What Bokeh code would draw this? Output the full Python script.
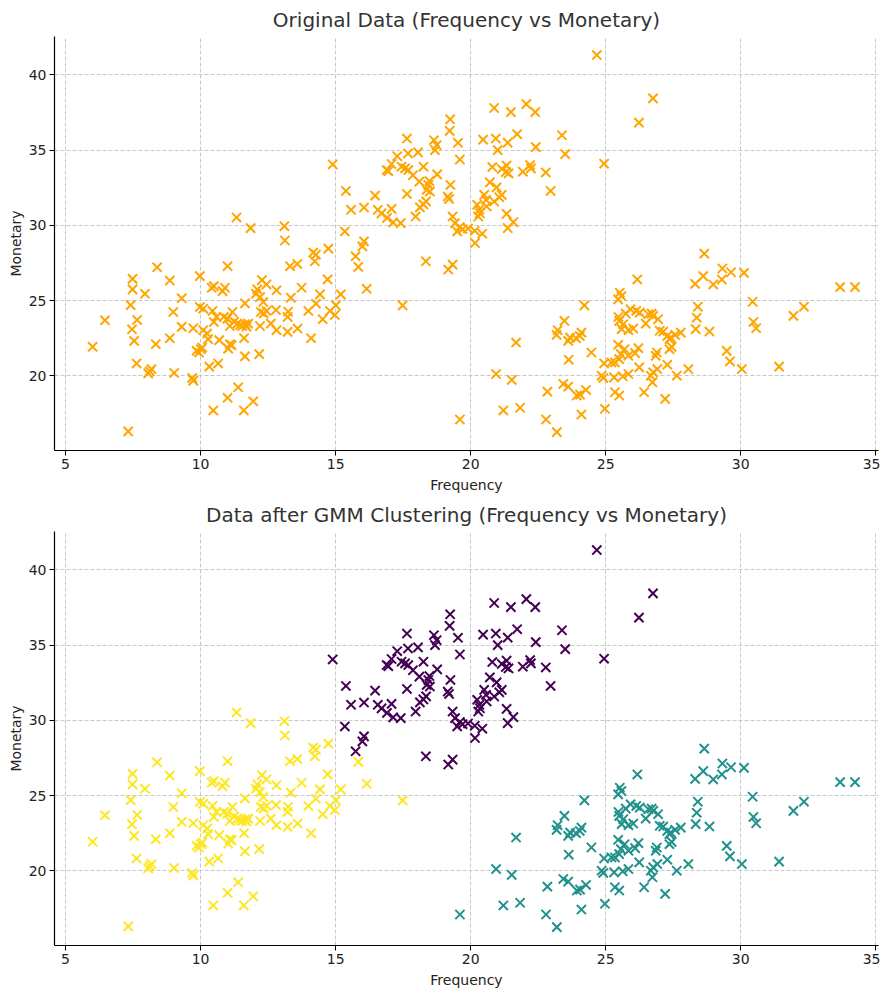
from bokeh.plotting import figure
from bokeh.layouts import column
from bokeh.models import Range1d, FixedTicker
from bokeh.embed import file_html
from bokeh.resources import INLINE

# ---------------- data (Frequency, Monetary) grouped by GMM cluster ----------------
# cluster 0 (purple, middle / high monetary)
c0_freq = [19.24, 19.22, 17.64, 18.64, 18.74, 18.68, 19.53, 19.60, 17.68, 18.05, 17.28, 14.89,
           17.07, 16.89, 16.95, 17.44, 17.57, 17.69, 18.25, 17.86, 18.76, 18.47, 18.10, 19.25,
           18.43, 18.37, 18.49, 15.38, 17.64, 16.46, 19.15, 19.20, 18.12, 18.25, 18.35, 15.57,
           16.05, 16.56, 17.07, 16.70, 16.90, 17.96, 19.33, 17.13, 17.41, 19.42, 19.50, 19.60,
           19.70, 19.90, 20.15, 15.34, 16.05, 15.99, 20.16, 20.43, 15.74, 18.34, 19.17, 19.33,
           24.67, 26.75, 26.23, 20.87, 21.49, 22.06, 22.39, 23.38, 20.46, 20.93, 21.72, 21.37,
           21.00, 22.41, 23.50, 24.94, 20.80, 21.15, 21.30, 21.40, 21.33, 21.93, 22.20, 22.23,
           22.78, 22.96, 20.71, 20.96, 20.50, 21.06, 20.87, 20.59, 20.24, 20.34, 20.28, 21.33,
           21.58, 21.37, 20.32, 20.57, 21.15]
c0_mon = [37.05, 36.28, 35.77, 35.66, 35.33, 35.00, 35.49, 34.38, 34.78, 34.85, 34.60, 34.05,
          34.08, 33.68, 33.61, 33.90, 33.79, 33.68, 33.90, 33.33, 33.39, 32.95, 32.91, 32.69,
          32.69, 32.36, 32.25, 32.29, 32.09, 31.98, 31.92, 31.76, 31.20, 31.40, 31.60, 31.04,
          31.19, 31.04, 31.10, 30.80, 30.50, 30.59, 30.59, 30.20, 30.15, 30.15, 29.60, 29.90,
          29.75, 29.80, 29.65, 29.60, 28.94, 28.61, 28.83, 29.45, 27.95, 27.62, 27.07, 27.40,
          41.32, 38.44, 36.83, 37.80, 37.53, 38.06, 37.53, 35.99, 35.70, 35.77, 36.06, 35.50,
          35.00, 35.20, 34.74, 34.10, 33.88, 33.75, 33.55, 33.46, 33.97, 33.57, 34.01, 33.79,
          33.52, 32.29, 32.86, 32.53, 32.03, 31.87, 31.59, 31.26, 31.37, 30.81, 30.59, 30.77,
          30.22, 29.82, 31.04, 31.70, 32.03]

# cluster 1 (teal, right / lower monetary)
c1_freq = [19.60, 26.17, 25.52, 25.58, 25.46, 24.21, 23.47, 23.22, 23.18, 23.61, 23.68, 23.90,
           24.04, 24.10, 21.68, 23.63, 24.47, 24.94, 25.21, 20.94, 21.52, 22.84, 23.43, 23.61,
           23.93, 24.05, 24.27, 24.85, 24.91, 21.21, 21.83, 22.79, 23.19, 24.10, 24.97, 25.47,
           25.50, 25.65, 25.59, 25.74, 25.92, 26.02, 25.84, 26.13, 26.26, 26.48, 26.58, 26.70,
           26.76, 26.94, 27.00, 27.13, 27.28, 27.41, 27.57, 25.46, 25.70, 25.56, 25.84, 25.50,
           25.34, 26.09, 26.21, 26.24, 26.89, 26.85, 27.36, 27.44, 27.28, 26.91, 26.76, 26.67,
           26.73, 26.42, 27.20, 27.63, 25.84, 25.63, 25.31, 25.34, 25.50, 28.65, 29.32, 29.64,
           30.12, 28.61, 28.31, 28.98, 29.30, 33.68, 34.23, 30.44, 32.34, 31.95, 28.41, 28.37,
           28.33, 28.84, 30.47, 30.57, 27.78, 27.36, 28.06, 29.48, 29.60, 30.04, 31.42]
c1_mon = [17.11, 26.41, 25.53, 25.31, 25.09, 24.69, 23.66, 23.04, 22.73, 22.33, 22.55, 22.51,
          22.66, 22.88, 22.22, 21.08, 21.56, 20.83, 20.90, 20.13, 19.74, 18.96, 19.47, 19.29,
          18.70, 18.76, 19.07, 20.02, 19.87, 17.71, 17.89, 17.11, 16.27, 17.44, 17.82, 23.92,
          23.66, 23.44, 23.11, 24.14, 24.43, 23.15, 23.04, 24.32, 24.21, 23.48, 24.10, 24.14,
          23.99, 23.77, 23.00, 22.95, 22.66, 22.55, 22.73, 22.07, 21.78, 21.45, 21.34, 21.12,
          20.90, 21.52, 21.85, 20.57, 21.56, 21.34, 21.78, 21.93, 20.75, 20.46, 20.24, 20.02,
          19.58, 18.92, 18.48, 20.02, 20.13, 19.98, 19.91, 18.92, 18.70, 28.13, 27.14, 26.89,
          26.85, 26.63, 26.12, 26.08, 26.41, 25.90, 25.90, 24.93, 24.60, 23.99, 24.60, 23.87,
          23.11, 22.95, 23.59, 23.17, 22.88, 22.45, 20.46, 21.67, 20.97, 20.46, 20.62]

# cluster 2 (yellow, left / low frequency)
c2_freq = [6.00, 6.46, 7.48, 7.48, 7.41, 7.46, 7.65, 7.54, 7.63, 7.32, 7.94, 8.39, 8.86, 8.99,
           8.86, 8.34, 8.06, 8.18, 8.12, 9.02, 9.30, 9.30, 9.73, 9.69, 9.73, 9.97, 9.97, 10.10,
           9.85, 9.94, 10.01, 10.06, 10.10, 10.24, 10.28, 10.32, 10.47, 10.41, 10.49, 10.44,
           10.49, 10.59, 10.65, 10.69, 10.81, 10.90, 11.00, 11.00, 11.39, 10.86, 11.02, 11.08,
           11.15, 10.99, 11.08, 11.18, 11.24, 11.36, 11.46, 11.54, 11.64, 11.76, 11.70, 11.64,
           11.61, 11.64, 11.60, 11.95, 12.17, 12.20, 12.10, 12.05, 12.20, 12.27, 12.44, 12.32,
           12.23, 12.34, 12.44, 12.60, 12.79, 12.81, 12.81, 11.33, 11.85, 13.10, 13.12, 14.73,
           14.17, 14.27, 14.23, 15.84, 13.58, 13.31, 14.70, 16.15, 17.48, 15.19, 14.42, 14.27,
           13.74, 13.34, 13.24, 13.22, 13.99, 14.79, 15.01, 14.97, 14.52, 13.22, 13.59, 14.09]
c2_mon = [21.94, 23.70, 26.45, 25.75, 24.71, 23.10, 23.72, 22.33, 20.83, 16.32, 25.46, 27.22,
          26.34, 24.25, 22.51, 22.11, 20.17, 20.46, 20.31, 20.20, 25.16, 23.26, 23.17, 19.87,
          19.69, 26.63, 24.58, 24.47, 21.67, 21.56, 21.78, 21.89, 23.04, 22.82, 22.45, 20.62,
          17.71, 25.86, 25.97, 24.32, 23.59, 23.92, 20.83, 22.38, 25.64, 25.86, 27.29, 18.55,
          19.25, 23.92, 21.82, 22.11, 22.05, 23.81, 23.32, 24.25, 23.61, 23.48, 23.39, 23.32,
          23.44, 23.48, 23.28, 24.82, 22.51, 21.30, 17.71, 18.32, 21.45, 23.32, 25.75, 25.46,
          25.24, 26.37, 26.08, 24.91, 24.25, 24.16, 24.32, 23.48, 24.38, 25.69, 23.04, 30.53,
          29.82, 29.95, 29.00, 28.46, 28.20, 28.06, 27.62, 27.25, 27.44, 27.29, 26.42, 25.79,
          24.69, 25.42, 25.42, 24.80, 25.86, 25.20, 24.27, 23.92, 24.32, 24.32, 24.69, 24.05,
          23.77, 22.93, 23.15, 22.51]

cluster_colors = ["#440154", "#21918c", "#fde725"]
x_ticks = [5, 10, 15, 20, 25, 30, 35]
y_ticks = [20, 25, 30, 35, 40]
titles = ["Original Data (Frequency vs Monetary)",
          "Data after GMM Clustering (Frequency vs Monetary)"]

FONT = "DejaVu Sans"


def make_fig(title, top, bottom):
    p = figure(width=880, height=495, output_backend="svg", toolbar_location=None,
               x_range=Range1d(4.59, 35.1), y_range=Range1d(15.05, 42.55),
               min_border_left=54, min_border_right=2, min_border_top=top,
               min_border_bottom=bottom)
    p.title.text = title
    p.title.align = "center"
    p.title.offset = 7
    p.title.text_font = FONT
    p.title.text_font_size = "20px"
    p.title.text_font_style = "normal"
    p.title.text_color = "#333333"
    p.outline_line_color = None
    p.background_fill_color = "white"
    p.border_fill_color = "white"
    for ax, ticks, lab in ((p.xaxis[0], x_ticks, "Frequency"), (p.yaxis[0], y_ticks, "Monetary")):
        ax.ticker = FixedTicker(ticks=ticks)
        ax.axis_label = lab
        ax.axis_label_text_font = FONT
        ax.axis_label_text_font_size = "14px"
        ax.axis_label_text_font_style = "normal"
        ax.axis_label_text_color = "#222222"
        ax.major_label_text_font = FONT
        ax.major_label_text_font_size = "14px"
        ax.major_label_text_color = "#222222"
        ax.minor_tick_line_color = None
        ax.major_tick_out = 5
        ax.major_tick_in = 0
        ax.major_label_standoff = 3
        ax.axis_label_standoff = 5
        ax.axis_line_color = "black"
        ax.axis_line_width = 1.2
        ax.major_tick_line_color = "black"
    p.yaxis[0].axis_label_standoff = 2
    p.grid.grid_line_color = "#c8c8c8"
    p.grid.grid_line_dash = "4 2"
    p.grid.grid_line_width = 1
    return p


p1 = make_fig(titles[0], 34, 44)
all_freq = c0_freq + c1_freq + c2_freq
all_mon = c0_mon + c1_mon + c2_mon
p1.scatter(all_freq, all_mon, marker="x", size=13, line_width=2, line_color="orange")

p2 = make_fig(titles[1], 36, 44)
for fq, mn, col in ((c0_freq, c0_mon, cluster_colors[0]),
                    (c1_freq, c1_mon, cluster_colors[1]),
                    (c2_freq, c2_mon, cluster_colors[2])):
    p2.scatter(fq, mn, marker="x", size=13, line_width=2, line_color=col)

layout = column(p1, p2, spacing=0)
open("out.html", "w").write(file_html(layout, INLINE))
